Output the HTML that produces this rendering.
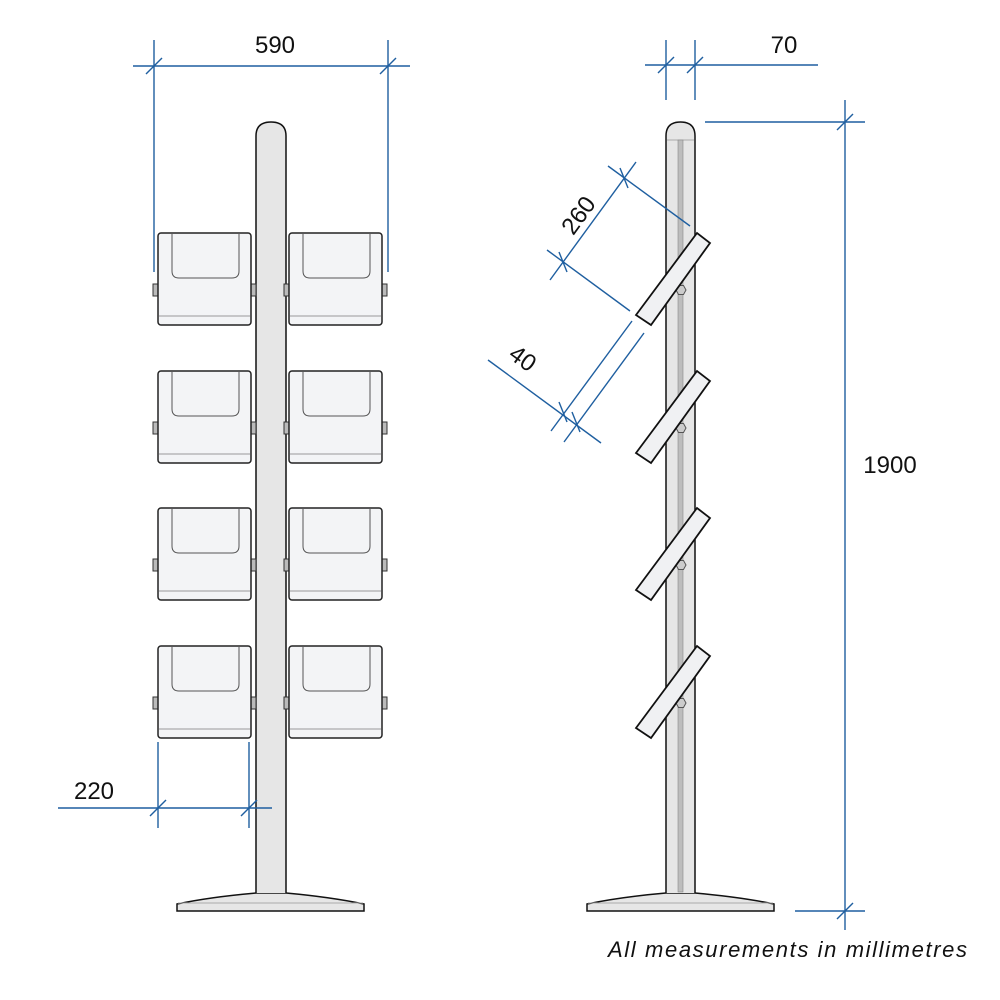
<!DOCTYPE html>
<html><head><style>body{margin:0;background:#fff}svg{display:block}</style></head><body>
<svg width="1000" height="1000" viewBox="0 0 1000 1000" xmlns="http://www.w3.org/2000/svg">
<defs>
<g id="box">
  <rect x="0" y="0" width="93" height="92" rx="3" fill="#f3f4f6" stroke="#222" stroke-width="1.5"/>
  <path d="M14 1 V38 Q14 45 21 45 H74 Q81 45 81 38 V1" fill="none" stroke="#555" stroke-width="1"/>
  <line x1="1" y1="83" x2="92" y2="83" stroke="#999" stroke-width="1"/>
</g>
<g id="knob"><rect x="0" y="0" width="5" height="12" fill="#bbb" stroke="#333" stroke-width="1"/></g>
<g id="shelf">
  <polygon points="636,315 651,325 710,243 697,233" fill="#f0f1f3" stroke="#111" stroke-width="1.8"/>
</g>
<g id="hex"><polygon points="676,290 678.5,285.5 683.5,285.5 686,290 683.5,294.5 678.5,294.5" fill="#ccc" stroke="#555" stroke-width="1"/></g>
</defs>

<path d="M177 904 Q210 897 256 893 H286 Q330 897 364 904 V911 H177 Z" fill="#e6e6e6" stroke="#111" stroke-width="1.5"/>
<line x1="178" y1="903" x2="363" y2="903" stroke="#aaa"/>
<path d="M256 893 V136 Q256 122 271 122 Q286 122 286 136 V893" fill="#e6e6e6" stroke="#111" stroke-width="1.5"/>

<g>
  <use href="#knob" x="153" y="284"/><use href="#knob" x="251" y="284"/><use href="#knob" x="284" y="284"/><use href="#knob" x="382" y="284"/>
  <use href="#box" x="158" y="233"/><use href="#box" x="289" y="233"/>
</g>
<g transform="translate(0,138)">
  <use href="#knob" x="153" y="284"/><use href="#knob" x="251" y="284"/><use href="#knob" x="284" y="284"/><use href="#knob" x="382" y="284"/>
  <use href="#box" x="158" y="233"/><use href="#box" x="289" y="233"/>
</g>
<g transform="translate(0,275)">
  <use href="#knob" x="153" y="284"/><use href="#knob" x="251" y="284"/><use href="#knob" x="284" y="284"/><use href="#knob" x="382" y="284"/>
  <use href="#box" x="158" y="233"/><use href="#box" x="289" y="233"/>
</g>
<g transform="translate(0,413)">
  <use href="#knob" x="153" y="284"/><use href="#knob" x="251" y="284"/><use href="#knob" x="284" y="284"/><use href="#knob" x="382" y="284"/>
  <use href="#box" x="158" y="233"/><use href="#box" x="289" y="233"/>
</g>

<path d="M587 904 Q620 897 666 893 H695 Q740 897 774 904 V911 H587 Z" fill="#e6e6e6" stroke="#111" stroke-width="1.5"/>
<line x1="588" y1="903" x2="773" y2="903" stroke="#aaa"/>
<path d="M666 893 V136 Q666 122 680.5 122 Q695 122 695 136 V893" fill="#e6e6e6" stroke="#111" stroke-width="1.5"/>
<line x1="667" y1="140" x2="694" y2="140" stroke="#aaa"/>
<rect x="678" y="140" width="5" height="752" fill="#bdbdbd" stroke="#888" stroke-width="0.6"/>
<use href="#hex"/><use href="#hex" y="138"/><use href="#hex" y="275"/><use href="#hex" y="413"/>
<use href="#shelf"/><use href="#shelf" y="138"/><use href="#shelf" y="275"/><use href="#shelf" y="413"/>

<g stroke="#1f5fa0" stroke-width="1.4" fill="none">
  <line x1="133" y1="66" x2="410" y2="66"/>
  <line x1="154" y1="40" x2="154" y2="272"/>
  <line x1="388" y1="40" x2="388" y2="272"/>
  <line x1="146" y1="74" x2="162" y2="58"/><line x1="380" y1="74" x2="396" y2="58"/>
  <line x1="58" y1="808" x2="272" y2="808"/>
  <line x1="158" y1="742" x2="158" y2="828"/>
  <line x1="249" y1="742" x2="249" y2="828"/>
  <line x1="150" y1="816" x2="166" y2="800"/><line x1="241" y1="816" x2="257" y2="800"/>
  <line x1="645" y1="65" x2="818" y2="65"/>
  <line x1="666" y1="40" x2="666" y2="100"/>
  <line x1="695" y1="40" x2="695" y2="100"/>
  <line x1="658" y1="73" x2="674" y2="57"/><line x1="687" y1="73" x2="703" y2="57"/>
  <line x1="845" y1="100" x2="845" y2="930"/>
  <line x1="705" y1="122" x2="865" y2="122"/>
  <line x1="795" y1="911" x2="865" y2="911"/>
  <line x1="837" y1="130" x2="853" y2="114"/><line x1="837" y1="919" x2="853" y2="903"/>
  <line x1="550" y1="280" x2="636" y2="162"/>
  <line x1="608" y1="166" x2="690" y2="226"/>
  <line x1="547" y1="250" x2="630" y2="311"/>
  <line x1="620" y1="168" x2="628" y2="188"/>
  <line x1="559" y1="252" x2="567" y2="272"/>
  <line x1="551" y1="431" x2="632" y2="321"/>
  <line x1="564" y1="442" x2="644" y2="333"/>
  <line x1="488" y1="360" x2="601" y2="443"/>
  <line x1="559" y1="402" x2="567" y2="422"/><line x1="572" y1="412" x2="580" y2="432"/>
</g>

<g font-family="Liberation Sans, sans-serif" font-size="24" fill="#111">
  <text x="275" y="53" text-anchor="middle">590</text>
  <text x="94" y="799" text-anchor="middle">220</text>
  <text x="784" y="53" text-anchor="middle">70</text>
  <text x="890" y="473" text-anchor="middle">1900</text>
  <text x="0" y="0" text-anchor="middle" transform="translate(585,220) rotate(-54)">260</text>
  <text x="0" y="0" text-anchor="middle" transform="translate(518,365) rotate(36)">40</text>
  <text x="608" y="957" font-style="italic" font-size="22" textLength="359" lengthAdjust="spacing">All measurements in millimetres</text>
</g>
</svg>
</body></html>
